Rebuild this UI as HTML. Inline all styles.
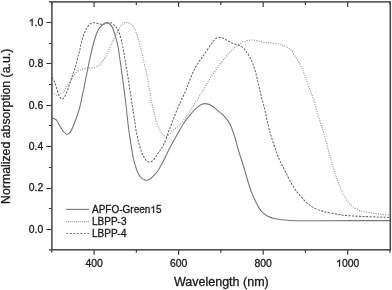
<!DOCTYPE html>
<html><head><meta charset="utf-8"><style>
html,body{margin:0;padding:0;background:#fff;width:392px;height:290px;overflow:hidden}
svg{display:block;will-change:transform}
text{font-family:"Liberation Sans",sans-serif;fill:#1a1a1a;stroke:#1a1a1a;stroke-width:0.3px}
tspan.o{fill:none;stroke:none}
.one{fill:#1a1a1a;stroke:#1a1a1a;stroke-width:0.3px;vector-effect:non-scaling-stroke}
</style></head><body>
<svg width="392" height="290" viewBox="0 0 392 290">
<g fill="none" stroke-linejoin="round">
<path d="M52.00,92.50 C52.57,92.87 54.48,94.22 55.40,94.70 C56.32,95.18 56.45,95.62 57.50,95.40 C58.55,95.18 60.63,94.03 61.70,93.40 C62.77,92.77 63.32,92.28 63.90,91.60 C64.48,90.92 64.58,90.42 65.20,89.30 C65.82,88.18 66.83,86.12 67.60,84.90 C68.37,83.68 69.07,83.10 69.80,82.00 C70.53,80.90 71.28,79.48 72.00,78.30 C72.72,77.12 73.35,75.90 74.10,74.90 C74.85,73.90 75.63,73.05 76.50,72.30 C77.37,71.55 78.22,70.93 79.30,70.40 C80.38,69.87 81.67,69.45 83.00,69.10 C84.33,68.75 85.73,68.50 87.30,68.30 C88.87,68.10 90.83,68.17 92.40,67.90 C93.97,67.63 95.50,67.20 96.70,66.70 C97.90,66.20 98.63,65.78 99.60,64.90 C100.57,64.02 101.52,62.77 102.50,61.40 C103.48,60.03 104.52,58.45 105.50,56.70 C106.48,54.95 107.53,52.75 108.40,50.90 C109.27,49.05 109.92,47.27 110.70,45.60 C111.48,43.93 112.22,42.75 113.10,40.90 C113.98,39.05 114.92,36.68 116.00,34.50 C117.08,32.32 118.52,29.52 119.60,27.80 C120.68,26.08 121.33,25.10 122.50,24.20 C123.67,23.30 124.78,22.03 126.60,22.40 C128.42,22.77 131.42,23.47 133.40,26.40 C135.38,29.33 136.85,34.52 138.50,40.00 C140.15,45.48 141.70,52.45 143.30,59.30 C144.90,66.15 146.90,74.92 148.10,81.10 C149.30,87.28 149.78,92.28 150.50,96.40 C151.22,100.52 151.77,102.97 152.40,105.80 C153.03,108.63 153.67,110.87 154.30,113.40 C154.93,115.93 155.42,118.47 156.20,121.00 C156.98,123.53 157.90,126.40 159.00,128.60 C160.10,130.80 161.53,132.90 162.80,134.20 C164.07,135.50 165.00,136.90 166.60,136.40 C168.20,135.90 170.52,132.90 172.40,131.20 C174.28,129.50 176.30,127.67 177.90,126.20 C179.50,124.73 180.73,123.83 182.00,122.40 C183.27,120.97 184.50,119.00 185.50,117.60 C186.50,116.20 187.22,115.17 188.00,114.00 C188.78,112.83 189.12,112.28 190.20,110.60 C191.28,108.92 193.12,106.07 194.50,103.90 C195.88,101.73 197.22,99.57 198.50,97.60 C199.78,95.63 200.87,94.28 202.20,92.10 C203.53,89.92 205.00,87.10 206.50,84.50 C208.00,81.90 209.28,79.45 211.20,76.50 C213.12,73.55 215.58,70.05 218.00,66.80 C220.42,63.55 223.82,59.33 225.70,57.00 C227.58,54.67 228.18,53.93 229.30,52.80 C230.42,51.67 231.28,51.23 232.40,50.20 C233.52,49.17 234.80,47.63 236.00,46.60 C237.20,45.57 238.35,44.83 239.60,44.00 C240.85,43.17 242.23,42.17 243.50,41.60 C244.77,41.03 245.72,40.87 247.20,40.60 C248.68,40.33 250.67,39.95 252.40,40.00 C254.13,40.05 255.58,40.50 257.60,40.90 C259.62,41.30 262.20,42.07 264.50,42.40 C266.80,42.73 268.97,42.62 271.40,42.90 C273.83,43.18 277.35,43.75 279.10,44.10 C280.85,44.45 280.57,44.50 281.90,45.00 C283.23,45.50 285.52,46.18 287.10,47.10 C288.68,48.02 290.12,49.07 291.40,50.50 C292.68,51.93 293.65,53.97 294.80,55.70 C295.95,57.43 297.15,58.88 298.30,60.90 C299.45,62.92 300.55,65.22 301.70,67.80 C302.85,70.38 304.18,73.68 305.20,76.40 C306.22,79.12 306.63,80.92 307.80,84.10 C308.97,87.28 310.60,90.72 312.20,95.50 C313.80,100.28 315.67,107.20 317.40,112.80 C319.13,118.40 321.28,124.77 322.60,129.10 C323.92,133.43 323.98,134.02 325.30,138.80 C326.62,143.58 328.77,151.77 330.50,157.80 C332.23,163.83 334.37,170.83 335.70,175.00 C337.03,179.17 337.32,179.72 338.50,182.80 C339.68,185.88 341.02,190.12 342.80,193.50 C344.58,196.88 347.07,200.60 349.20,203.10 C351.33,205.60 353.10,207.07 355.60,208.50 C358.10,209.93 360.63,210.82 364.20,211.70 C367.77,212.58 372.87,213.27 377.00,213.80 C381.13,214.33 387.00,214.72 389.00,214.90" stroke="#999" stroke-width="1.15" stroke-dasharray="1.1 1.3"/>
<path d="M52.00,77.50 C52.42,78.20 53.72,79.87 54.50,81.70 C55.28,83.53 55.95,86.25 56.70,88.50 C57.45,90.75 58.22,93.47 59.00,95.20 C59.78,96.93 60.67,98.38 61.40,98.90 C62.13,99.42 62.72,98.95 63.40,98.30 C64.08,97.65 64.85,96.25 65.50,95.00 C66.15,93.75 66.70,92.37 67.30,90.80 C67.90,89.23 68.50,87.37 69.10,85.60 C69.70,83.83 70.33,81.93 70.90,80.20 C71.47,78.47 71.98,76.75 72.50,75.20 C73.02,73.65 73.48,72.40 74.00,70.90 C74.52,69.40 74.98,68.37 75.60,66.20 C76.22,64.03 77.02,60.55 77.70,57.90 C78.38,55.25 79.05,52.98 79.70,50.30 C80.35,47.62 80.88,44.52 81.60,41.80 C82.32,39.08 83.17,36.23 84.00,34.00 C84.83,31.77 85.57,30.10 86.60,28.40 C87.63,26.70 88.92,24.75 90.20,23.80 C91.48,22.85 92.92,22.72 94.30,22.70 C95.68,22.68 97.12,23.43 98.50,23.70 C99.88,23.97 101.22,24.40 102.60,24.30 C103.98,24.20 105.37,23.35 106.80,23.10 C108.23,22.85 109.83,22.35 111.20,22.80 C112.57,23.25 113.93,24.70 115.00,25.80 C116.07,26.90 116.82,28.02 117.60,29.40 C118.38,30.78 119.08,32.33 119.70,34.10 C120.32,35.87 120.82,38.02 121.30,40.00 C121.78,41.98 121.97,42.67 122.60,46.00 C123.23,49.33 124.13,54.33 125.10,60.00 C126.07,65.67 127.22,72.50 128.40,80.00 C129.58,87.50 131.17,98.33 132.20,105.00 C133.23,111.67 133.93,115.67 134.60,120.00 C135.27,124.33 135.52,127.27 136.20,131.00 C136.88,134.73 137.83,138.92 138.70,142.40 C139.57,145.88 140.60,149.60 141.40,151.90 C142.20,154.20 142.72,154.77 143.50,156.20 C144.28,157.63 145.08,159.50 146.10,160.50 C147.12,161.50 148.45,162.20 149.60,162.20 C150.75,162.20 152.00,161.35 153.00,160.50 C154.00,159.65 154.82,158.25 155.60,157.10 C156.38,155.95 156.87,154.83 157.70,153.60 C158.53,152.37 159.52,151.38 160.60,149.70 C161.68,148.02 163.05,146.00 164.20,143.50 C165.35,141.00 166.38,137.68 167.50,134.70 C168.62,131.72 169.75,128.62 170.90,125.60 C172.05,122.58 173.25,119.55 174.40,116.60 C175.55,113.65 176.65,110.63 177.80,107.90 C178.95,105.17 179.93,103.18 181.30,100.20 C182.67,97.22 184.58,93.37 186.00,90.00 C187.42,86.63 188.40,83.45 189.80,80.00 C191.20,76.55 192.77,72.50 194.40,69.30 C196.03,66.10 197.93,63.33 199.60,60.80 C201.27,58.27 202.45,56.93 204.40,54.10 C206.35,51.27 209.48,46.33 211.30,43.80 C213.12,41.27 214.02,39.95 215.30,38.90 C216.58,37.85 217.78,37.63 219.00,37.50 C220.22,37.37 221.40,37.70 222.60,38.10 C223.80,38.50 225.00,39.25 226.20,39.90 C227.40,40.55 228.60,41.40 229.80,42.00 C231.00,42.60 232.28,43.12 233.40,43.50 C234.52,43.88 235.32,43.92 236.50,44.30 C237.68,44.68 239.20,45.02 240.50,45.80 C241.80,46.58 243.33,48.00 244.30,49.00 C245.27,50.00 245.62,50.87 246.30,51.80 C246.98,52.73 247.70,53.45 248.40,54.60 C249.10,55.75 249.80,57.33 250.50,58.70 C251.20,60.07 252.03,61.42 252.60,62.80 C253.17,64.18 253.45,65.62 253.90,67.00 C254.35,68.38 254.82,69.43 255.30,71.10 C255.78,72.77 255.97,73.48 256.80,77.00 C257.63,80.52 258.98,86.78 260.30,92.20 C261.62,97.62 263.40,104.03 264.70,109.50 C266.00,114.97 266.97,120.38 268.10,125.00 C269.23,129.62 270.07,132.57 271.50,137.20 C272.93,141.83 275.23,148.73 276.70,152.80 C278.17,156.87 279.05,158.85 280.30,161.60 C281.55,164.35 283.03,166.98 284.20,169.30 C285.37,171.62 286.27,173.45 287.30,175.50 C288.33,177.55 289.37,179.68 290.40,181.60 C291.43,183.52 292.33,185.18 293.50,187.00 C294.67,188.82 296.10,190.80 297.40,192.50 C298.70,194.20 299.75,195.52 301.30,197.20 C302.85,198.88 304.73,200.90 306.70,202.60 C308.67,204.30 310.30,205.90 313.10,207.40 C315.90,208.90 319.35,210.45 323.50,211.60 C327.65,212.75 333.35,213.58 338.00,214.30 C342.65,215.02 342.90,215.38 351.40,215.90 C359.90,216.42 382.73,217.15 389.00,217.40" stroke="#666" stroke-width="1.05" stroke-dasharray="2.2 1.3"/>
<path d="M52.00,118.00 C52.72,118.30 55.00,118.48 56.30,119.80 C57.60,121.12 58.63,123.98 59.80,125.90 C60.97,127.82 62.17,129.92 63.30,131.30 C64.43,132.68 65.47,134.02 66.60,134.20 C67.73,134.38 69.03,133.65 70.10,132.40 C71.17,131.15 71.92,129.23 73.00,126.70 C74.08,124.17 75.53,120.22 76.60,117.20 C77.67,114.18 78.60,111.47 79.40,108.60 C80.20,105.73 80.72,103.10 81.40,100.00 C82.08,96.90 82.82,93.33 83.50,90.00 C84.18,86.67 84.48,85.00 85.50,80.00 C86.52,75.00 88.38,65.67 89.60,60.00 C90.82,54.33 91.50,50.75 92.80,46.00 C94.10,41.25 95.90,34.92 97.40,31.50 C98.90,28.08 100.18,26.98 101.80,25.50 C103.42,24.02 105.43,22.45 107.10,22.60 C108.77,22.75 110.43,24.18 111.80,26.40 C113.17,28.62 114.28,32.60 115.30,35.90 C116.32,39.20 117.18,42.68 117.90,46.20 C118.62,49.72 118.78,51.37 119.60,57.00 C120.42,62.63 121.73,72.00 122.80,80.00 C123.87,88.00 125.12,97.57 126.00,105.00 C126.88,112.43 127.45,119.22 128.10,124.60 C128.75,129.98 129.32,133.40 129.90,137.30 C130.48,141.20 130.97,144.22 131.60,148.00 C132.23,151.78 132.92,156.57 133.70,160.00 C134.48,163.43 135.43,166.15 136.30,168.60 C137.17,171.05 138.03,173.12 138.90,174.70 C139.77,176.28 140.38,177.17 141.50,178.10 C142.62,179.03 144.32,180.08 145.60,180.30 C146.88,180.52 147.87,180.13 149.20,179.40 C150.53,178.67 152.15,177.33 153.60,175.90 C155.05,174.47 156.55,172.73 157.90,170.80 C159.25,168.87 160.38,166.77 161.70,164.30 C163.02,161.83 164.38,158.85 165.80,156.00 C167.22,153.15 168.35,150.70 170.20,147.20 C172.05,143.70 174.67,138.95 176.90,135.00 C179.13,131.05 181.43,126.80 183.60,123.50 C185.77,120.20 187.87,117.68 189.90,115.20 C191.93,112.72 193.95,110.35 195.80,108.60 C197.65,106.85 199.47,105.53 201.00,104.70 C202.53,103.87 203.28,103.47 205.00,103.60 C206.72,103.73 209.10,104.27 211.30,105.50 C213.50,106.73 215.90,109.07 218.20,111.00 C220.50,112.93 223.08,114.80 225.10,117.10 C227.12,119.40 228.68,121.48 230.30,124.80 C231.92,128.12 233.58,133.22 234.80,137.00 C236.02,140.78 236.58,144.00 237.60,147.50 C238.62,151.00 239.85,154.67 240.90,158.00 C241.95,161.33 242.82,163.92 243.90,167.50 C244.98,171.08 246.15,175.43 247.40,179.50 C248.65,183.57 250.05,188.28 251.40,191.90 C252.75,195.52 253.95,198.10 255.50,201.20 C257.05,204.30 258.80,208.08 260.70,210.50 C262.60,212.92 264.48,214.32 266.90,215.70 C269.32,217.08 271.40,218.00 275.20,218.80 C279.00,219.60 282.23,220.18 289.70,220.50 C297.17,220.82 303.28,220.68 320.00,220.70 C336.72,220.72 378.33,220.62 390.00,220.60" stroke="#777" stroke-width="1.1"/>
</g>
<g stroke="#303030" stroke-width="1.15" fill="none">
<path d="M51.80,249.80V252.80 M51.80,1.90V4.90 M94.07,249.80V254.80 M94.07,1.90V7.10 M136.34,249.80V252.80 M136.34,1.90V4.90 M178.61,249.80V254.80 M178.61,1.90V7.10 M220.88,249.80V252.80 M220.88,1.90V4.90 M263.15,249.80V254.80 M263.15,1.90V7.10 M305.42,249.80V252.80 M305.42,1.90V4.90 M347.69,249.80V254.80 M347.69,1.90V7.10 M389.96,249.80V252.80 M389.96,1.90V4.90 M51.90,249.80H48.90 M51.90,229.50H46.40 M51.90,208.50H48.90 M51.90,188.50H46.40 M51.90,167.50H48.90 M51.90,146.50H46.40 M51.90,125.50H48.90 M51.90,105.50H46.40 M51.90,84.50H48.90 M51.90,63.50H46.40 M51.90,43.50H48.90 M51.90,22.50H46.40 M51.90,1.90H48.90"/>
</g>
<rect x="51.9" y="1.9" width="338.4" height="247.9" fill="none" stroke="#4a4a4a" stroke-width="1.55"/>
<text class="m" x="94.07" y="266.7" text-anchor="middle" font-size="10.4">400</text>
<text class="m" x="178.61" y="266.7" text-anchor="middle" font-size="10.4">600</text>
<text class="m" x="263.15" y="266.7" text-anchor="middle" font-size="10.4">800</text>
<text class="m" x="347.69" y="266.7" text-anchor="middle" font-size="10.4"><tspan class="o">1</tspan>000</text>
<text class="m" x="43.2" y="232.80" text-anchor="end" font-size="10.4">0.0</text>
<text class="m" x="43.2" y="191.42" text-anchor="end" font-size="10.4">0.2</text>
<text class="m" x="43.2" y="150.04" text-anchor="end" font-size="10.4">0.4</text>
<text class="m" x="43.2" y="108.66" text-anchor="end" font-size="10.4">0.6</text>
<text class="m" x="43.2" y="67.28" text-anchor="end" font-size="10.4">0.8</text>
<text class="m" x="43.2" y="25.90" text-anchor="end" font-size="10.4"><tspan class="o">1</tspan>.0</text>
<text x="174.0" y="286.1" font-size="12.5">Wavelength (nm)</text>
<text transform="translate(10.0,203.9) rotate(-90)" font-size="12.3">Normalized absorption (a.u.)</text>
<g fill="none">
<path d="M66.2,209.4H89" stroke="#777" stroke-width="1.1"/>
<path d="M66.2,221.6H89" stroke="#a0a0a0" stroke-width="1.1" stroke-dasharray="1 1"/>
<path d="M66.3,233.5H89" stroke="#777" stroke-width="1.1" stroke-dasharray="1.9 1.6"/>
</g>
<text class="m" x="92" y="212.7" font-size="10">APFO-Green<tspan class="o">1</tspan>5</text>
<text x="92" y="224.9" font-size="10">LBPP-3</text>
<text x="92" y="236.9" font-size="10">LBPP-4</text>
<path class="one" transform="translate(336.13,266.70) scale(0.005078,-0.005078)" d="M763,0L583,0L583,1100C520,1040 415,975 310,922L206,880L206,1050C372,1128 500,1236 618,1345L676,1409L763,1409Z"/>
<path class="one" transform="translate(28.75,25.90) scale(0.005078,-0.005078)" d="M763,0L583,0L583,1100C520,1040 415,975 310,922L206,880L206,1050C372,1128 500,1236 618,1345L676,1409L763,1409Z"/>
<path class="one" transform="translate(150.36,212.70) scale(0.004883,-0.004883)" d="M763,0L583,0L583,1100C520,1040 415,975 310,922L206,880L206,1050C372,1128 500,1236 618,1345L676,1409L763,1409Z"/>
</svg>
</body></html>
